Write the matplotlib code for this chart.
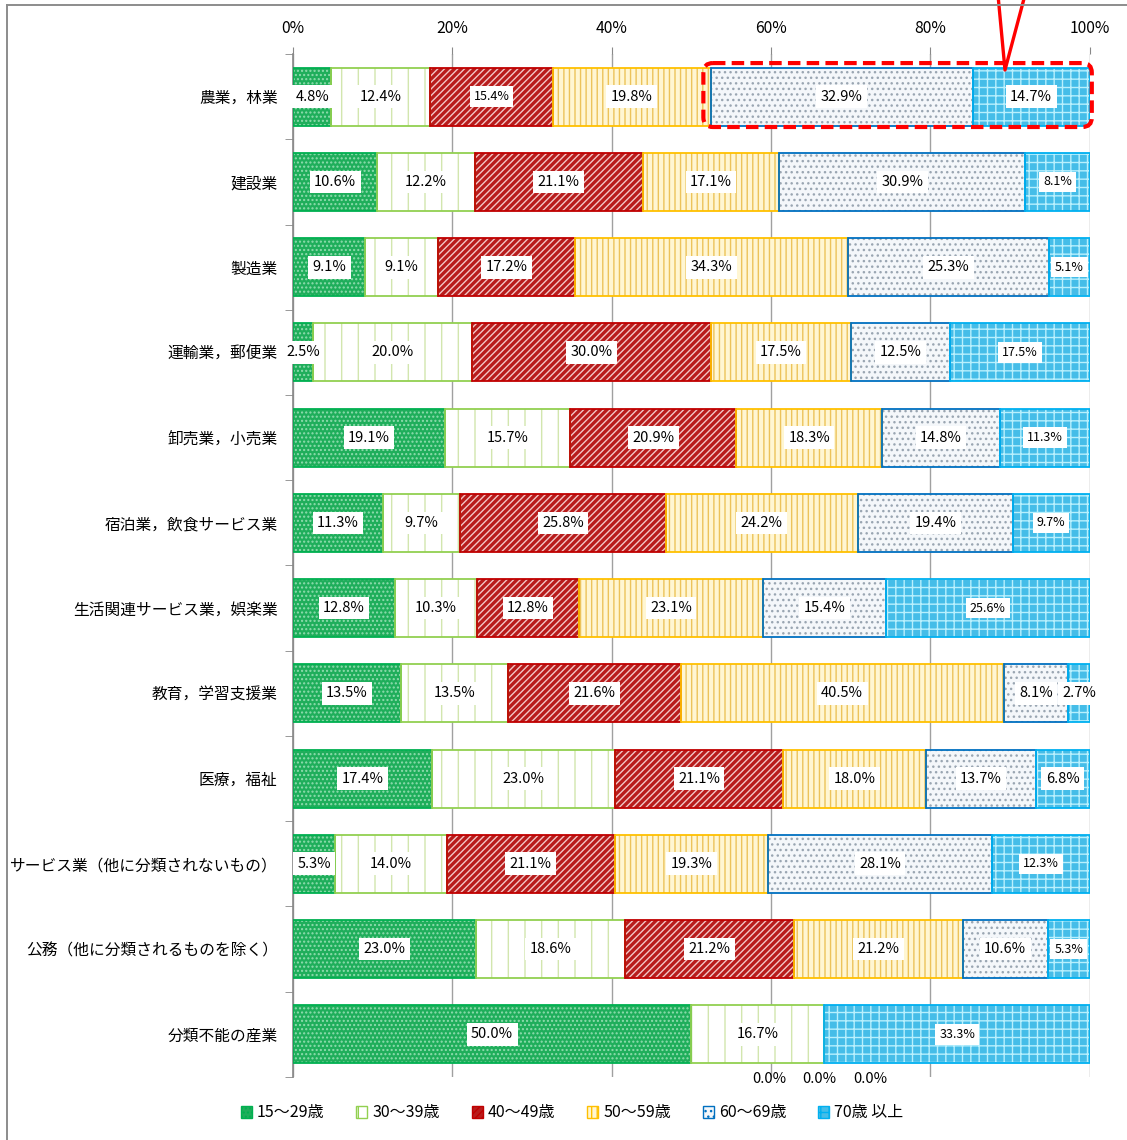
import numpy as np
import matplotlib.pyplot as plt
from matplotlib.patches import FancyBboxPatch, Patch
from matplotlib.lines import Line2D

plt.rcParams['font.family'] = ['Noto Sans CJK JP', 'DejaVu Sans']
plt.rcParams['hatch.linewidth'] = 1.0

industries = ['農業，林業', '建設業', '製造業', '運輸業，郵便業', '卸売業，小売業',
              '宿泊業，飲食サービス業', '生活関連サービス業，娯楽業', '教育，学習支援業',
              '医療，福祉', 'サービス業（他に分類されないもの）',
              '公務（他に分類されるものを除く）', '分類不能の産業']
age_groups = ['15～29歳', '30～39歳', '40～49歳', '50～59歳', '60～69歳', '70歳 以上']

age_15_29 = [4.8, 10.6, 9.1, 2.5, 19.1, 11.3, 12.8, 13.5, 17.4, 5.3, 23.0, 50.0]
age_30_39 = [12.4, 12.2, 9.1, 20.0, 15.7, 9.7, 10.3, 13.5, 23.0, 14.0, 18.6, 16.7]
age_40_49 = [15.4, 21.1, 17.2, 30.0, 20.9, 25.8, 12.8, 21.6, 21.1, 21.1, 21.2, 0.0]
age_50_59 = [19.8, 17.1, 34.3, 17.5, 18.3, 24.2, 23.1, 40.5, 18.0, 19.3, 21.2, 0.0]
age_60_69 = [32.9, 30.9, 25.3, 12.5, 14.8, 19.4, 15.4, 8.1, 13.7, 28.1, 10.6, 0.0]
age_70_up = [14.7, 8.1, 5.1, 17.5, 11.3, 9.7, 25.6, 2.7, 6.8, 12.3, 5.3, 33.3]

# where Excel put the labels of the empty segments in the last row
zero_label_x = [59.8, 66.1, 72.4]

face = ['#1fae5b', '#ffffff', '#b81c1c', '#fff6d2', '#f4f7fa', '#45bde8']
hatch_col = ['#8fdcae', '#d2e6ae', '#f3c6c6', '#ecc35a', '#9aa6b2', '#b8f0fd']
hatches = ['....', '|', '/////', '|||', '...', '++']
edge = ['#00b050', '#92d050', '#c00000', '#ffc000', '#0070c0', '#00b0f0']

values = np.array([age_15_29, age_30_39, age_40_49, age_50_59, age_60_69, age_70_up]).T
shares = values / values.sum(axis=1)[:, None] * 100
lefts = np.cumsum(shares, axis=1) - shares
y = np.arange(len(industries))

fig = plt.figure(figsize=(11.27, 11.40), dpi=100)
ax = fig.add_axes([0.26, 0.0553, 0.707, 0.8973])

for j in range(len(age_groups)):
    m = shares[:, j] > 0
    ax.barh(y[m], shares[m, j], left=lefts[m, j], height=0.68, color=face[j],
            edgecolor=hatch_col[j], hatch=hatches[j], linewidth=0, zorder=2)
    ax.barh(y[m], shares[m, j], left=lefts[m, j], height=0.68, fill=False,
            edgecolor=edge[j], linewidth=1.3, zorder=3)

# smaller labels, as in the original
small = {(0, 2), (1, 5), (2, 5), (3, 5), (4, 5), (5, 5), (6, 5), (9, 5), (10, 5), (11, 5)}
for i in range(len(industries)):
    for j in range(len(age_groups)):
        v = values[i, j]
        if v <= 0:
            continue
        fs = 9 if (i, j) in small else 10.5
        ax.text(lefts[i, j] + shares[i, j] / 2, i, f'{v:.1f}%', ha='center', va='center',
                fontsize=fs, zorder=5,
                bbox=dict(boxstyle='square,pad=0.3', fc='white', ec='none'))

zero_idx = [j for j in range(len(age_groups)) if values[-1, j] == 0]
for x, j in zip(zero_label_x, zero_idx):
    ax.text(x, 11.52, f'{values[-1, j]:.1f}%', ha='center', va='center', fontsize=10.5,
            clip_on=False, zorder=5)

ax.set_xlim(0, 100)
ax.set_ylim(11.5, -0.5)
ax.xaxis.tick_top()
ax.set_xticks(range(0, 101, 20))
ax.set_xticklabels([f'{v}%' for v in range(0, 101, 20)])
ax.tick_params(axis='x', length=5, color='#888888', pad=7, labelsize=11.3)
ax.set_yticks(y)
ax.set_yticklabels(industries)
ax.tick_params(axis='y', which='major', length=0, pad=11, labelsize=11.3)
ax.set_yticks(np.arange(-0.5, 12, 1), minor=True)
ax.tick_params(axis='y', which='minor', length=6, color='#888888')
ax.grid(axis='x', color='#a0a0a0', linewidth=1)
ax.set_axisbelow(True)
for s in ['top', 'right', 'bottom']:
    ax.spines[s].set_visible(False)
ax.spines['left'].set_color('#888888')
ax.spines['left'].set_linewidth(1.2)

# red dashed highlight around the 60+ part of the first row
x0 = lefts[0, 4] - 0.9
box = FancyBboxPatch((x0, -0.394), 100.25 - x0, 0.75,
                     boxstyle='round,pad=0,rounding_size=1.2', mutation_aspect=0.0934,
                     fill=False, edgecolor='#ff0000', linewidth=3,
                     linestyle=(0, (3, 1.5)), zorder=6, clip_on=False)
ax.add_patch(box)

W, H = 1127, 1140
def fig_line(xs, ys, **kw):
    fig.add_artist(Line2D([v / W for v in xs], [1 - v / H for v in ys],
                          transform=fig.transFigure, **kw))

fig_line([998, 1005, 1025], [-5, 70, -5], color='#ff0000', linewidth=2.4)
fig_line([7, 7], [5, 1150], color='#8c8c8c', linewidth=1.4)
fig_line([7, 1135], [5, 5], color='#8c8c8c', linewidth=1.4)

handles = [Patch(facecolor=face[j], edgecolor=edge[j], hatch=hatches[j], linewidth=1)
           for j in range(len(age_groups))]
fig.legend(handles, age_groups, loc='center', bbox_to_anchor=(572 / W, 1 - 1113 / H),
           ncol=6, frameon=False, fontsize=11.5, handlelength=0.7, handleheight=0.7,
           handletextpad=0.3, columnspacing=2.0)

fig.savefig('out.png', dpi=100)
